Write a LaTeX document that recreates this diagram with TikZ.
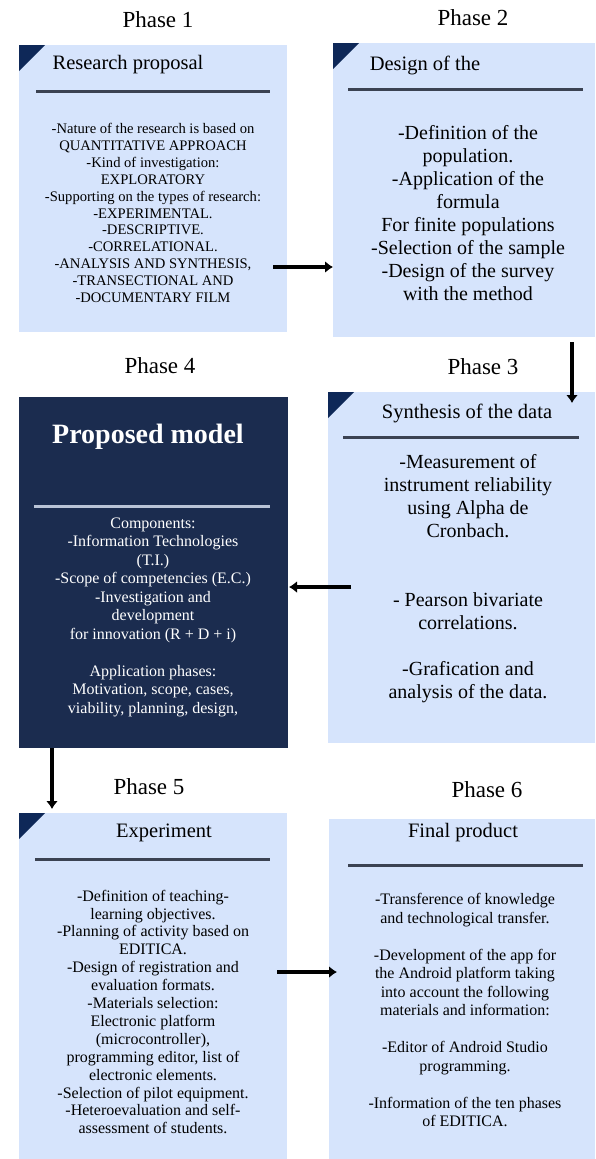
\documentclass[tikz,border=0pt]{standalone}
\usepackage{fontspec}
\setmainfont{Liberation Serif}
\usetikzlibrary{arrows.meta}
\definecolor{paleblue}{HTML}{D6E4FC}
\definecolor{navy}{HTML}{1B2C4F}
\definecolor{cornerblue}{HTML}{0E2858}
\definecolor{rulegray}{HTML}{3B4252}
\definecolor{rulelight}{HTML}{B9C3D6}
\tikzset{
  panel/.style={fill=paleblue, inner sep=0pt, anchor=north west},
  darkpanel/.style={fill=navy, inner sep=0pt, anchor=north west},
  phase/.style={font=\fontsize{23}{26}\selectfont},
  head/.style={font=\fontsize{20.5}{24}\selectfont},
  body/.style={align=center, inner sep=0pt},
  rulebar/.style={rulegray, line width=3pt},
  corner/.style={fill=cornerblue},
  flow/.style={line width=3.4pt, -{Latex[length=8pt,width=12pt]}}
}
\begin{document}
\begin{tikzpicture}[x=1pt,y=-1pt]
\useasboundingbox (0,0) rectangle (595,1159);
\fill[white] (0,0) rectangle (595,1159);

% phase boxes
\node[panel, minimum width=268, minimum height=287] (box1) at (19,45) {};
\node[panel, minimum width=262, minimum height=294] (box2) at (333,43) {};
\node[panel, minimum width=267, minimum height=351] (box3) at (328,392) {};
\node[darkpanel, minimum width=269, minimum height=351] (box4) at (19,397) {};
\node[panel, minimum width=268, minimum height=346] (box5) at (19,813) {};
\node[panel, minimum width=266, minimum height=340] (box6) at (329,819) {};

\fill[corner] (box1.north west) -- ++(26,0) -- ++(-26,26) -- cycle;
\fill[corner] (box2.north west) -- ++(26,0) -- ++(-26,26) -- cycle;
\fill[corner] (box3.north west) -- ++(26,0) -- ++(-26,26) -- cycle;
\fill[corner] (box5.north west) -- ++(26,0) -- ++(-26,26) -- cycle;

% phase labels
\node[phase] (ph1) at (158,20) {Phase 1};
\node[phase] (ph2) at (473,18) {Phase 2};
\node[phase] (ph3) at (483,367) {Phase 3};
\node[phase] (ph4) at (160,366) {Phase 4};
\node[phase] (ph5) at (149,787) {Phase 5};
\node[phase] (ph6) at (487,790) {Phase 6};

% titles and rules
\node[head] (t1) at (128,65) {Research proposal};
\draw[rulebar] (36,91) -- (270,91);
\node[head] (t2) at (425,65) {Design of the};
\draw[rulebar] (348,89) -- (583,89);
\node[head] (t3) at (467,413) {Synthesis of the data};
\draw[rulebar] (343,437) -- (579,437);
\node[font=\fontsize{28}{32}\selectfont\bfseries, text=white] (t4) at (148,437) {Proposed model};
\draw[rulelight, line width=3pt] (34,506) -- (270,506);
\node[head] (t5) at (164,833) {Experiment};
\draw[rulebar] (35,859) -- (270,859);
\node[head] (t6) at (463,833) {Final product};
\draw[rulebar] (348,865) -- (583,865);

% contents
\node[body, font=\fontsize{14.6}{16.9}\selectfont] (b1) at (153,213) {-Nature of the research is based on\\QUANTITATIVE APPROACH\\-Kind of investigation:\\EXPLORATORY\\-Supporting on the types of research:\\-EXPERIMENTAL.\\-DESCRIPTIVE.\\-CORRELATIONAL.\\-ANALYSIS AND SYNTHESIS,\\-TRANSECTIONAL AND\\-DOCUMENTARY FILM};
\node[body, font=\fontsize{20}{23}\selectfont] (b2) at (468,213) {-Definition of the\\population.\\-Application of the\\formula\\For finite populations\\-Selection of the sample\\-Design of the survey\\with the method};
\node[body, font=\fontsize{20}{23}\selectfont] (b3) at (468,579) {-Measurement of\\instrument reliability\\using Alpha de\\Cronbach.\\[46pt]- Pearson bivariate\\correlations.\\[23pt]-Grafication and\\analysis of the data.};
\node[body, font=\fontsize{16}{18.5}\selectfont, text=white] (b4) at (153,617) {Components:\\-Information Technologies\\(T.I.)\\-Scope of competencies (E.C.)\\-Investigation and\\development\\for innovation (R + D + i)\\[18.5pt]Application phases:\\Motivation, scope, cases,\\viability, planning, design,};
\node[body, font=\fontsize{16}{17.9}\selectfont] (b5) at (153,1012) {-Definition of teaching-\\learning objectives.\\-Planning of activity based on\\EDITICA.\\-Design of registration and\\evaluation formats.\\-Materials selection:\\Electronic platform\\(microcontroller),\\programming editor, list of\\electronic elements.\\-Selection of pilot equipment.\\-Heteroevaluation and self-\\assessment of students.};
\node[body, font=\fontsize{16}{18.5}\selectfont] (b6) at (465,1010) {-Transference of knowledge\\and technological transfer.\\[18.5pt]-Development of the app for\\the Android platform taking\\into account the following\\materials and information:\\[18.5pt]-Editor of Android Studio\\programming.\\[18.5pt]-Information of the ten phases\\of EDITICA.};

% connectors
\coordinate (s12) at (273,267);
\coordinate (s23) at (572,342);
\coordinate (e23) at (572,403);
\coordinate (s34) at (351,587);
\coordinate (e34) at (289,587);
\coordinate (s45) at (52,748);
\coordinate (e45) at (52,809);
\coordinate (s56) at (277,972);
\coordinate (e56) at (337,972);
\draw[flow] (s12) -- (s12 -| box2.west);
\draw[flow] (s23) -- (e23);
\draw[flow] (s34) -- (e34);
\draw[flow] (s45) -- (e45);
\draw[flow] (s56) -- (e56);
\end{tikzpicture}
\end{document}
